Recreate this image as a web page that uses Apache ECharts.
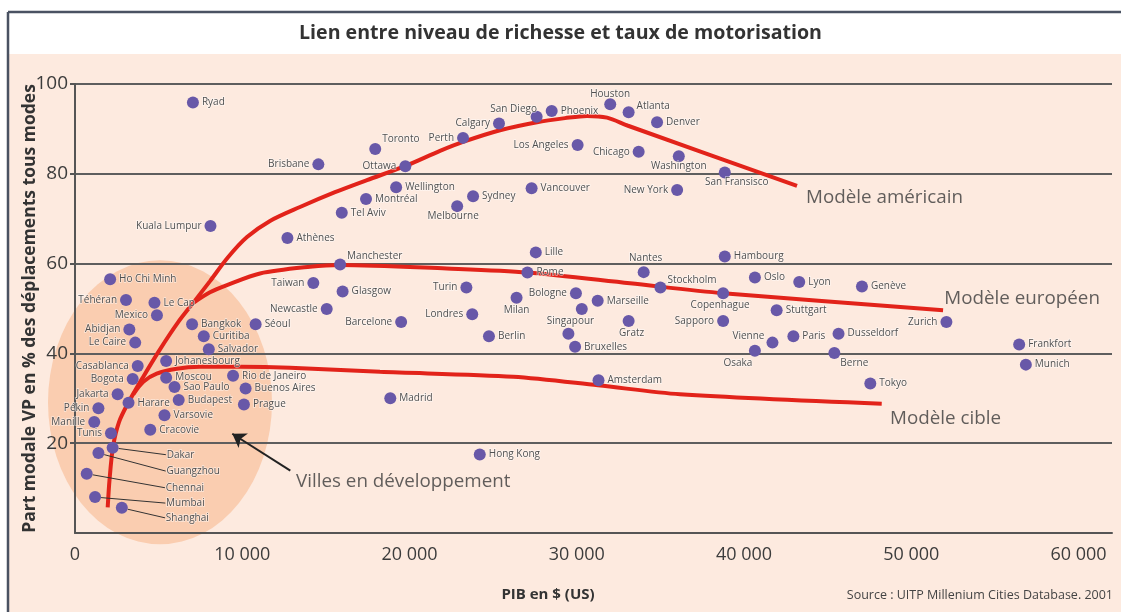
<!DOCTYPE html>
<html><head><meta charset="utf-8">
<script src="https://cdn.jsdelivr.net/npm/echarts@6/dist/echarts.min.js"></script>
<style>html,body{margin:0;padding:0;background:#fff}#c{width:1121px;height:612px}</style>
</head><body><div id="c"></div>
<script>
// ---- data ----
const cities = ['Ryad','Houston','Phoenix','Atlanta','San Diego','Denver','Calgary','Perth','Los Angeles','Toronto',
 'Chicago','Washington','Brisbane','Ottawa','San Fransisco','Wellington','Vancouver','New York','Sydney','Montréal',
 'Melbourne','Tel Aviv','Kuala Lumpur','Athènes','Lille','Hambourg','Manchester','Nantes','Rome','Oslo',
 'Ho Chi Minh','Lyon','Taiwan','Genève','Stockholm','Turin','Glasgow','Bologne','Copenhague','Milan',
 'Téhéran','Marseille','Le Cap','','Newcastle','Stuttgart','Londres','Mexico','Sapporo','Gratz',
 'Barcelone','Zurich','Bangkok','Séoul','Abidjan','Singapour','Dusseldorf','Curitiba','Berlin','Paris',
 'Le Caire','Vienne','Frankfort','Bruxelles','Salvador','Osaka','Berne','Johanesbourg','Munich','Casablanca',
 'Rio de Janeiro','Moscou','Bogota','Amsterdam','Tokyo','Sao Paulo','Buenos Aires','Jakarta','Madrid','Budapest',
 'Harare','Prague','Pékin','Varsovie','Manille','Cracovie','Tunis','Dakar','Guangzhou','Hong Kong',
 'Chennai','Mumbai','Shanghai'];
const gdp = [7050,32000,28500,33100,27600,34800,25350,23200,30050,17950,
 33700,36100,14550,19750,38850,19200,27300,36000,23800,17400,
 22850,15950,8100,12700,27550,38850,15850,34000,27050,40650,
 2100,43300,14250,47050,35000,23400,16000,29950,38750,26400,
 3050,31250,4750,30300,15050,41950,23750,4900,38750,33100,
 19500,52100,7000,10800,3250,29500,45650,7700,24750,42950,
 3600,41700,56450,29900,8000,40650,45400,5450,56850,3750,
 9450,5450,3450,31300,47550,5950,10200,2550,18850,6200,
 3200,10100,1400,5350,1150,4500,2150,2250,1400,24200,
 700,1200,2800];
const carShare = [95.9,95.5,94.0,93.7,92.7,91.5,91.2,88.0,86.4,85.5,
 84.9,83.9,82.1,81.7,80.3,77.0,76.8,76.4,75.0,74.4,
 72.8,71.3,68.4,65.7,62.5,61.6,59.8,58.1,58.0,56.9,
 56.5,55.9,55.7,54.9,54.7,54.7,53.8,53.4,53.4,52.4,
 51.9,51.7,51.3,49.9,49.9,49.6,48.7,48.5,47.2,47.2,
 47.0,47.0,46.5,46.5,45.3,44.4,44.4,43.8,43.8,43.8,
 42.4,42.4,42.0,41.5,40.9,40.6,40.1,38.3,37.5,37.2,
 35.0,34.6,34.3,34.0,33.3,32.5,32.2,30.9,30.0,29.6,
 29.0,28.6,27.8,26.2,24.7,23.0,22.2,19.0,17.8,17.5,
 13.2,8.0,5.6];

const americanGdp   = [1955,2063,2272,2631,3169,4066,5082,6158,7055,8072,9148,10284,11659,13452,15545,17458,19730,21823,23198,25411,27623,29297,30612,31808,33065,43168];
const americanShare = [5.7,11.8,19.2,24.7,28.9,34.7,40.9,46.9,51.2,56.1,61.4,65.9,69.5,72.6,75.9,78.6,81.7,85.1,87.1,89.7,91.5,92.4,92.9,92.5,90.7,77.3];
const europeanGdp   = [7055,8072,9088,11061,14050,15844,22224,27066,33182,38761,51900];
const europeanShare = [51.2,53.6,55.2,57.8,59.3,59.7,58.9,58.0,55.6,53.4,49.6];
const cibleGdp      = [3486,4084,4885,6081,7474,9865,12855,18236,26206,31270,36172,48232];
const cibleShare    = [30.9,33.7,35.5,36.6,37.0,37.0,36.8,35.9,34.8,32.9,30.9,28.8];

const annotationTexts = ['Modèle américain','Modèle européen','Modèle cible','Villes en développement'];
const annotationGdp   = [43706,51975,48729,13213];
const annotationShare = [74.7,52.2,25.5,11.4];
const arrowFrom = [12873,13.9];
const arrowTo   = [9405,22.1];
const developingCenter = [5082,29.1];

const yTicks = [0,20,40,60,80,100];

// ---- label styling (placement offsets, not data) ----
const leftLabels = ['Brisbane','Ottawa','Kuala Lumpur','Calgary','Perth','Los Angeles','Chicago','New York','Sapporo','Zurich',
 'Taiwan','Turin','Bologne','Londres','Newcastle','Barcelone','Téhéran','Mexico','Abidjan','Le Caire','Casablanca','Bogota',
 'Jakarta','Pékin','Manille','Tunis'];
const labelPlacement = {
  'Toronto':['right',-2,-10],'Manchester':['right',-2,-8],'Stockholm':['right',-2,-7],'Atlanta':['right',-1,-6],
  'Berne':['right',-3,10],'San Diego':['top',-23,4],'Houston':['top',0,2],'Nantes':['top',2,-2],'Singapour':['top',2,0],
  'Vienne':['left',1,-6],'Washington':['bottom',0,-2],'San Fransisco':['bottom',12,-2],'Melbourne':['bottom',-4,-2],
  'Copenhague':['bottom',-3,0],'Gratz':['bottom',3,0],'Osaka':['bottom',-17,0],'Milan':['bottom',0,0]
};
const leaderOffsets = {'Dakar':[54,7],'Guangzhou':[68,18],'Chennai':[79,14],'Mumbai':[71,6],'Shanghai':[44,10]};

const FONT = "'Open Sans','Noto Sans',sans-serif";
const DOT = '#6858a8';
const RED = '#e2231a';

const mainData = [], leaderData = [];
cities.forEach((n, i) => {
  const item = {name: n, value: [gdp[i], carShare[i]]};
  if (leaderOffsets[n]) { leaderData.push(item); return; }
  const pl = labelPlacement[n] || (leftLabels.includes(n) ? ['left',0,0] : ['right',0,0]);
  item.label = {position: pl[0], offset: [pl[1], pl[2]], distance: (pl[0]==='top'||pl[0]==='bottom') ? 1 : 3};
  mainData.push(item);
});
const zip = (a, b) => a.map((v, i) => [v, b[i]]);

const cityLabel = {show: true, formatter: '{b}', fontSize: 10, color: '#505050', fontFamily: FONT,
  textBorderColor: 'rgba(255,255,255,0.55)', textBorderWidth: 1.5};

const chart = echarts.init(document.getElementById('c'), null, {renderer: 'canvas'});
chart.setOption({
  backgroundColor: '#ffffff',
  animation: false,
  title: {text: 'Lien entre niveau de richesse et taux de motorisation', left: 'center', top: 18,
    textStyle: {fontSize: 19.6, fontWeight: 'bold', color: '#333', fontFamily: FONT}},
  grid: {left: 75, right: 9, top: 84, bottom: 79, containLabel: false, outerBoundsMode: 'none'},
  xAxis: {type: 'value', min: 0, max: 62000, interval: 10000,
    axisLine: {show: true, lineStyle: {color: '#555', width: 2}},
    axisTick: {show: false}, splitLine: {show: false},
    axisLabel: {showMaxLabel: false, margin: 13, fontSize: 18, color: '#3c3c3c', fontFamily: FONT,
      formatter: v => v === 0 ? '0' : (v / 1000) + ' 000'}},
  yAxis: {type: 'value', min: yTicks[0], max: yTicks[yTicks.length-1], interval: 20,
    name: 'Part modale VP en % des déplacements tous modes', nameLocation: 'middle', nameGap: 36, nameRotate: 90,
    nameMoveOverlap: false,
    nameTextStyle: {fontSize: 17.5, fontWeight: 'bold', color: '#333', fontFamily: FONT},
    axisLine: {show: true, lineStyle: {color: '#555', width: 2}},
    axisTick: {show: true, length: 5, lineStyle: {color: '#555', width: 2}},
    splitLine: {show: true, lineStyle: {color: '#5e5e5e', width: 2}},
    axisLabel: {showMinLabel: false, margin: 7, fontSize: 19, color: '#3c3c3c', fontFamily: FONT}},
  graphic: [
    {type: 'rect', z: -20, silent: true, shape: {x: 9, y: 54, width: 1112, height: 558}, style: {fill: '#fdeadf'}},
    {type: 'line', z: 10, silent: true, shape: {x1: 8, y1: 12, x2: 1121, y2: 12}, style: {stroke: '#4a5262', lineWidth: 2.5}},
    {type: 'line', z: 10, silent: true, shape: {x1: 8, y1: 12, x2: 8, y2: 612}, style: {stroke: '#4a5262', lineWidth: 2.5}},
    {type: 'text', silent: true, style: {x: 548, y: 595, text: 'PIB en $ (US)', textAlign: 'center', textVerticalAlign: 'middle',
      font: "bold 15px " + FONT, fill: '#333'}},
    {type: 'text', silent: true, style: {x: 1113, y: 595, text: 'Source : UITP Millenium Cities Database. 2001', textAlign: 'right',
      textVerticalAlign: 'middle', font: "12.5px " + FONT, fill: '#444'}}
  ],
  series: [
    {type: 'scatter', name: 'zone', silent: true, z: -1, symbol: 'circle', symbolSize: [224, 284],
      itemStyle: {color: '#facdb0', opacity: 1}, data: [developingCenter]},
    {type: 'line', name: 'Modèle américain', data: zip(americanGdp, americanShare), smooth: 0.3, symbol: 'none',
      lineStyle: {color: RED, width: 4}, z: 3, silent: true},
    {type: 'line', name: 'Modèle européen', data: zip(europeanGdp, europeanShare), smooth: 0.3, symbol: 'none',
      lineStyle: {color: RED, width: 4}, z: 3, silent: true},
    {type: 'line', name: 'Modèle cible', data: zip(cibleGdp, cibleShare), smooth: 0.3, symbol: 'none',
      lineStyle: {color: RED, width: 4}, z: 3, silent: true},
    {type: 'scatter', name: 'villes', symbolSize: 12, itemStyle: {color: DOT, opacity: 1}, z: 5, silent: true,
      label: cityLabel, data: mainData},
    {type: 'scatter', name: 'villes2', symbolSize: 12, itemStyle: {color: DOT, opacity: 1}, z: 5, silent: true,
      label: Object.assign({}, cityLabel, {position: 'right'}), data: leaderData,
      labelLine: {show: true, lineStyle: {color: '#333', width: 1}},
      labelLayout: p => {
        const o = leaderOffsets[p.text];
        if (!o) return {};
        return {x: p.rect.x + p.rect.width / 2 + o[0], y: p.rect.y + p.rect.height / 2 + o[1], align: 'left', verticalAlign: 'middle'};
      }},
    {type: 'scatter', name: 'annotations', symbolSize: 0.1, silent: true, z: 6,
      itemStyle: {color: 'rgba(0,0,0,0)'},
      label: {show: true, position: 'right', distance: 0, formatter: '{b}', fontSize: 18.8, color: '#3a3a3a', fontFamily: FONT},
      data: annotationTexts.map((t, i) => ({name: t, value: [annotationGdp[i], annotationShare[i]]})),
      markLine: {silent: true, symbol: ['none', 'arrow'], symbolSize: 13, label: {show: false},
        lineStyle: {color: '#222', width: 2, type: 'solid'},
        data: [[{coord: arrowFrom}, {coord: arrowTo}]]}}
  ]
});
</script></body></html>
